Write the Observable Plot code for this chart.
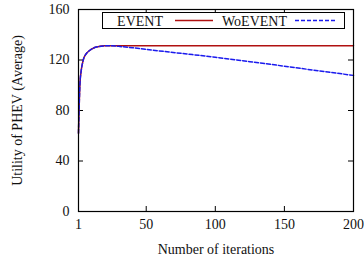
<!DOCTYPE html>
<html><head><meta charset="utf-8">
<script src="https://cdn.jsdelivr.net/npm/d3@7"></script>
<script src="https://cdn.jsdelivr.net/npm/@observablehq/plot@0.6"></script>
<style>body{margin:0;background:#fff}</style>
</head><body><div id="chart"></div>
<script>
// Shared rise (both series coincide)
const riseIter = [1, 2, 3, 4, 5, 6, 7, 9, 12, 15, 20, 25];
const riseVal  = [62, 100, 112, 118, 122, 124, 125.5, 127.5, 129.5, 130.5, 131.2, 131.3];
// EVENT tail
const eventIter = [50, 100, 150, 200];
const eventVal  = [131.3, 131.3, 131.3, 131.3];
// WoEVENT tail
const woIter = [30, 40, 50, 75, 100, 125, 150, 175, 200];
const woVal  = [130.8, 129.7, 128.4, 125.3, 122.2, 118.7, 115.1, 111.4, 107.8];

const seriesNames = ["EVENT", "WoEVENT"];
const seriesColors = ["#b01010", "#1a1aee"];
const xTicks = [1, 50, 100, 150, 200];
const yTicks = [0, 40, 80, 120, 160];
const xLabel = "Number of iterations";
const yLabel = "Utility of PHEV (Average)";

const font = "Liberation Serif, Times New Roman, serif";
const rows = [];
riseIter.forEach((x, i) => rows.push({s: "EVENT", x, y: riseVal[i]}));
eventIter.forEach((x, i) => rows.push({s: "EVENT", x, y: eventVal[i]}));
riseIter.forEach((x, i) => rows.push({s: "WoEVENT", x, y: riseVal[i]}));
woIter.forEach((x, i) => rows.push({s: "WoEVENT", x, y: woVal[i]}));

const W = 364, H = 261, mL = 78, mR = 11, mT = 9, mB = 50;
const innerH = H - mT - mB, innerW = W - mL - mR, tk = 5;

const chart = Plot.plot({
  width: W, height: H,
  marginLeft: mL, marginRight: mR, marginTop: mT, marginBottom: mB,
  style: {fontFamily: font, fontSize: "14px", background: "#fff", color: "#111"},
  x: {domain: [1, 200]},
  y: {domain: [0, 160]},
  marks: [
    Plot.axisX({ticks: xTicks, tickSize: 0, tickPadding: 8, fontSize: 14,
      label: xLabel, labelAnchor: "center", labelArrow: "none", labelOffset: 42}),
    Plot.axisY({ticks: yTicks, tickSize: 0, tickPadding: 9, fontSize: 14,
      label: yLabel, labelAnchor: "center", labelArrow: "none", labelOffset: 66}),
    Plot.ruleX(xTicks.slice(1, -1), {x: d => d, insetTop: innerH - tk, stroke: "#000"}),
    Plot.ruleX(xTicks.slice(1, -1), {x: d => d, insetBottom: innerH - tk, stroke: "#000"}),
    Plot.ruleY(yTicks.slice(1, -1), {y: d => d, insetRight: innerW - tk, stroke: "#000"}),
    Plot.ruleY(yTicks.slice(1, -1), {y: d => d, insetLeft: innerW - tk, stroke: "#000"}),
    Plot.line(rows.filter(d => d.s === "EVENT"), {x: "x", y: "y", stroke: seriesColors[0], strokeWidth: 1.5, curve: "monotone-x"}),
    Plot.line(rows.filter(d => d.s === "WoEVENT"), {x: "x", y: "y", stroke: seriesColors[1], strokeWidth: 1.5, strokeDasharray: "4,2", curve: "monotone-x"}),
    Plot.frame({stroke: "#000", strokeWidth: 1.2})
  ]
});
document.getElementById("chart").appendChild(chart);

// Legend box
const svg = d3.select(chart);
const lg = svg.append("g").attr("font-family", font).attr("font-size", 14).attr("fill", "#111");
lg.append("rect").attr("x", 102.5).attr("y", 12.5).attr("width", 242).attr("height", 16)
  .attr("fill", "#fff").attr("stroke", "#000").attr("stroke-width", 1);
const items = [
  {name: seriesNames[0], tx: 163, l1: 175, l2: 213, color: seriesColors[0], dash: null},
  {name: seriesNames[1], tx: 287, l1: 295, l2: 335, color: seriesColors[1], dash: "4,2"}
];
items.forEach(it => {
  lg.append("text").attr("x", it.tx).attr("y", 25.5).attr("text-anchor", "end").text(it.name);
  const ln = lg.append("line").attr("x1", it.l1).attr("x2", it.l2).attr("y1", 20.5).attr("y2", 20.5)
    .attr("stroke", it.color).attr("stroke-width", 1.5);
  if (it.dash) ln.attr("stroke-dasharray", it.dash);
});
</script>
</body></html>
